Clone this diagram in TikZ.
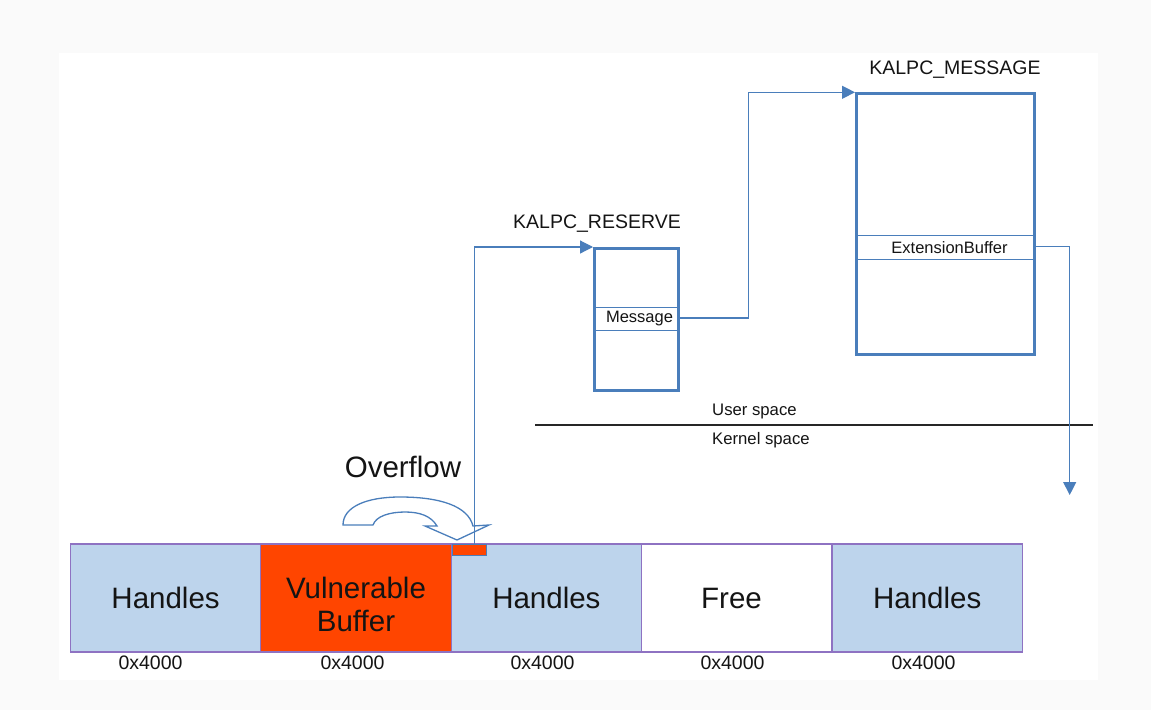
\documentclass[tikz,border=0pt]{standalone}
\usepackage{fontspec}
\setmainfont{Liberation Sans}
\usetikzlibrary{arrows.meta}
\definecolor{lineblue}{HTML}{4A7EBB}
\definecolor{cellblue}{HTML}{BDD4EC}
\definecolor{cellpurple}{HTML}{8E72C2}
\definecolor{hot}{HTML}{FF4500}
\definecolor{ink}{HTML}{141414}
\definecolor{pagebg}{HTML}{FAFAFA}
\tikzset{
  mem/.style={draw=cellpurple, line width=1.2pt, fill=cellblue, minimum width=190.4pt, minimum height=108pt, inner sep=0pt, text=ink, font=\fontsize{29.5}{33}\selectfont, align=center},
  bigtext/.style={text=ink, font=\fontsize{29.5}{33}\selectfont, align=center, inner sep=0pt},
  sizelbl/.style={text=ink, font=\fontsize{19.5}{21}\selectfont, inner sep=0pt},
  structbox/.style={draw=lineblue, line width=2.5pt, anchor=north west, inner sep=0pt},
  fieldrow/.style={draw=lineblue, line width=1pt, anchor=north west, inner sep=0pt, text=ink, font=\fontsize{16.5}{18}\selectfont},
  title/.style={text=ink, font=\fontsize{19.5}{22}\selectfont, inner sep=0pt},
  small/.style={text=ink, font=\fontsize{16.7}{18}\selectfont, inner sep=0pt, anchor=west},
  conn/.style={draw=lineblue, line width=1.2pt},
  tip/.style={-{Triangle[length=13pt,width=13pt]}}
}
\begin{document}
\begin{tikzpicture}[x=1pt,y=-1pt]
\useasboundingbox (0,0) rectangle (1151,710);
\fill[pagebg] (0,0) rectangle (1151,710);
\fill[white] (59,53) rectangle (1098,680);

% bottom memory blocks
\node[mem] (b1) at (165.6,598) {Handles};
\node[mem, fill=hot] (b2) at (356,598) {};
\node[bigtext] (vb) at (356,604) {Vulnerable\\Buffer};
\node[mem] (b3) at (546.4,598) {Handles};
\node[mem, fill=white] (b4) at (736.8,598) {};
\node[bigtext] (fr) at (731.5,598) {Free};
\node[mem] (b5) at (927.2,598) {Handles};
\node[sizelbl] (l1) at (150.5,663) {0x4000};
\node[sizelbl] (l2) at (352.5,663) {0x4000};
\node[sizelbl] (l3) at (542.5,663) {0x4000};
\node[sizelbl] (l4) at (732.5,663) {0x4000};
\node[sizelbl] (l5) at (923.5,663) {0x4000};

% overflowed chunk
\node[draw=lineblue, line width=0.8pt, fill=hot, anchor=north west, minimum width=34pt, minimum height=11pt, inner sep=0pt] (ovr) at (452,544) {};

% Overflow curved arrow
\node[text=ink, font=\fontsize{29.5}{31}\selectfont, inner sep=0pt] (ovl) at (403,467) {Overflow};
\draw[draw=lineblue, line width=1.3pt, fill=white, line join=miter]
  (343,525) .. controls (343,507) and (366,497) .. (400,497)
  .. controls (440,497) and (468,506) .. (473,526)
  -- (489,525) -- (457,540) -- (425,526) -- (437,526)
  .. controls (431,516) and (420,512) .. (405,512)
  .. controls (390,512) and (376,516) .. (373,525) -- cycle;

% KALPC_RESERVE
\node[title] (rtitle) at (597,224) {KALPC\_RESERVE};
\node[fieldrow, minimum width=84pt, minimum height=22.6pt] (msg) at (593,307) {\hspace*{8pt}Message};
\node[structbox, minimum width=84pt, minimum height=142pt] (res) at (593,247) {};

% KALPC_MESSAGE
\node[title] (mtitle) at (955,70) {KALPC\_MESSAGE};
\node[fieldrow, minimum width=178pt, minimum height=24pt] (ext) at (855,235) {\hspace*{10pt}ExtensionBuffer};
\node[structbox, minimum width=178pt, minimum height=261pt] (kmsg) at (855,92.3) {};

% user / kernel divider
\coordinate (dl) at (535,425);
\coordinate (dr) at (1093,425);
\draw[black!85, line width=2pt] (dl) -- (dr);
\node[small] (us) at (712,411.5) {User space};
\node[small] (ks) at (712,440.5) {Kernel space};

% connectors
\coordinate (r0) at (474.3,543.5);
\coordinate (m1) at (748.3,318);
\coordinate (kdown) at (1069.7,495);
\draw[conn, tip] (r0) |- (res.north west);
\draw[conn, tip] (msg.east |- m1) -- (m1) |- (kmsg.north west);
\draw[conn, tip] (ext.east |- 0,246.5) -| (kdown);
\end{tikzpicture}
\end{document}
